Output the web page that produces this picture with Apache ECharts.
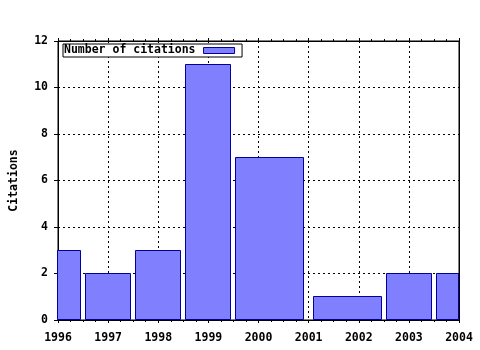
<!DOCTYPE html>
<html>
<head>
<meta charset="utf-8">
<script src="https://cdn.jsdelivr.net/npm/echarts@6/dist/echarts.min.js"></script>
<style>html,body{margin:0;padding:0;background:#fff}#c{width:480px;height:350px}</style>
</head>
<body>
<div id="c"></div>
<script>
var years = [1996, 1997, 1998, 1999, 2000, 2002, 2003, 2004];
var citations = [3, 2, 3, 11, 7, 1, 2, 2];
var seriesName = 'Number of citations';
var yTitle = 'Citations';
var boxFraction = 0.9;

var FONT = '"DejaVu Sans Mono", monospace';
var FS = 11.5;
var chart = echarts.init(document.getElementById('c'), null, {renderer: 'canvas'});

var data = years.map(function (y, i) { return [y, citations[i], i]; });

function snap(c) {
  var d = Math.round(c * 2);
  return d % 2 ? d / 2 : d / 2 - 0.5;
}

function renderItem(params, api) {
  var i = api.value(2);
  var x = api.value(0);
  var prev = i > 0 ? years[i - 1] : null;
  var next = i < years.length - 1 ? years[i + 1] : null;
  var dl = prev !== null ? x - prev : next - x;
  var dr = next !== null ? next - x : x - prev;
  var x0 = x - boxFraction * dl / 2;
  var x1 = x + boxFraction * dr / 2;
  var p0 = api.coord([x0, api.value(1)]);
  var p1 = api.coord([x1, 0]);
  var cs = params.coordSys;
  var rect = echarts.graphic.clipRectByRect(
    {x: p0[0], y: p0[1], width: p1[0] - p0[0], height: p1[1] - p0[1]},
    {x: cs.x, y: cs.y, width: cs.width, height: cs.height}
  );
  if (!rect) return;
  var l = snap(rect.x), r = snap(rect.x + rect.width);
  var t = snap(rect.y), b = snap(rect.y + rect.height);
  return {
    type: 'rect',
    shape: {x: l, y: t, width: r - l, height: b - t},
    style: {fill: '#8080ff', stroke: '#00009a', lineWidth: 1}
  };
}

var xCommon = {
  type: 'value', min: 1996, max: 2004, interval: 1,
  axisLine: {show: true, onZero: false, lineStyle: {color: '#000', width: 1}},
  axisTick: {show: true, inside: false, length: 3, lineStyle: {color: '#000'}},
  minorTick: {show: true, splitNumber: 4, length: 2, lineStyle: {color: '#000'}}
};

chart.setOption({
  animation: false,
  backgroundColor: '#fff',
  textStyle: {fontFamily: FONT},
  grid: {left: 57, right: 21, top: 41, bottom: 30, show: true, borderColor: '#000', borderWidth: 1, backgroundColor: 'transparent'},
  legend: {
    show: true, left: 63, top: 44, align: 'right', orient: 'horizontal',
    itemWidth: 31, itemHeight: 6, padding: [0, 7, 0, 1],
    borderColor: '#000', borderWidth: 1, backgroundColor: '#fff',
    textStyle: {fontFamily: FONT, fontWeight: 'bold', fontSize: FS, color: '#000', lineHeight: 13, padding: [0, 3, 0, 0]},
    data: [{name: seriesName, icon: 'rect', itemStyle: {color: '#8080ff', borderColor: '#00009a', borderWidth: 1}}]
  },
  xAxis: [
    Object.assign({}, xCommon, {
      position: 'bottom',
      axisLabel: {show: true, margin: 12, color: '#000', fontFamily: FONT, fontWeight: 'bold', fontSize: FS,
        formatter: function (v) { return String(v); }},
      splitLine: {show: true, lineStyle: {color: '#000', type: [2, 3], width: 1}}
    }),
    Object.assign({}, xCommon, {
      position: 'top',
      axisLabel: {show: false},
      splitLine: {show: false}
    })
  ],
  yAxis: [{
    type: 'value', min: 0, max: 12, interval: 2, position: 'left',
    name: yTitle, nameLocation: 'middle', nameGap: 38, nameRotate: 90,
    nameTextStyle: {color: '#000', fontFamily: FONT, fontWeight: 'bold', fontSize: FS},
    axisLine: {show: true, onZero: false, lineStyle: {color: '#000'}},
    axisTick: {show: true, inside: false, length: 4, lineStyle: {color: '#000'}},
    axisLabel: {show: true, margin: 10, color: '#000', fontFamily: FONT, fontWeight: 'bold', fontSize: FS},
    splitLine: {show: true, lineStyle: {color: '#000', type: [2, 3], width: 1}}
  }, {
    type: 'value', min: 0, max: 12, interval: 2, position: 'right',
    axisLine: {show: true, onZero: false, lineStyle: {color: '#000'}},
    axisTick: {show: false},
    axisLabel: {show: false},
    splitLine: {show: false}
  }],
  series: [{
    type: 'custom',
    name: seriesName,
    xAxisIndex: 0,
    yAxisIndex: 0,
    renderItem: renderItem,
    itemStyle: {color: '#8080ff', borderColor: '#00009a'},
    encode: {x: 0, y: 1},
    data: data,
    z: 5
  }]
});
</script>
</body>
</html>
